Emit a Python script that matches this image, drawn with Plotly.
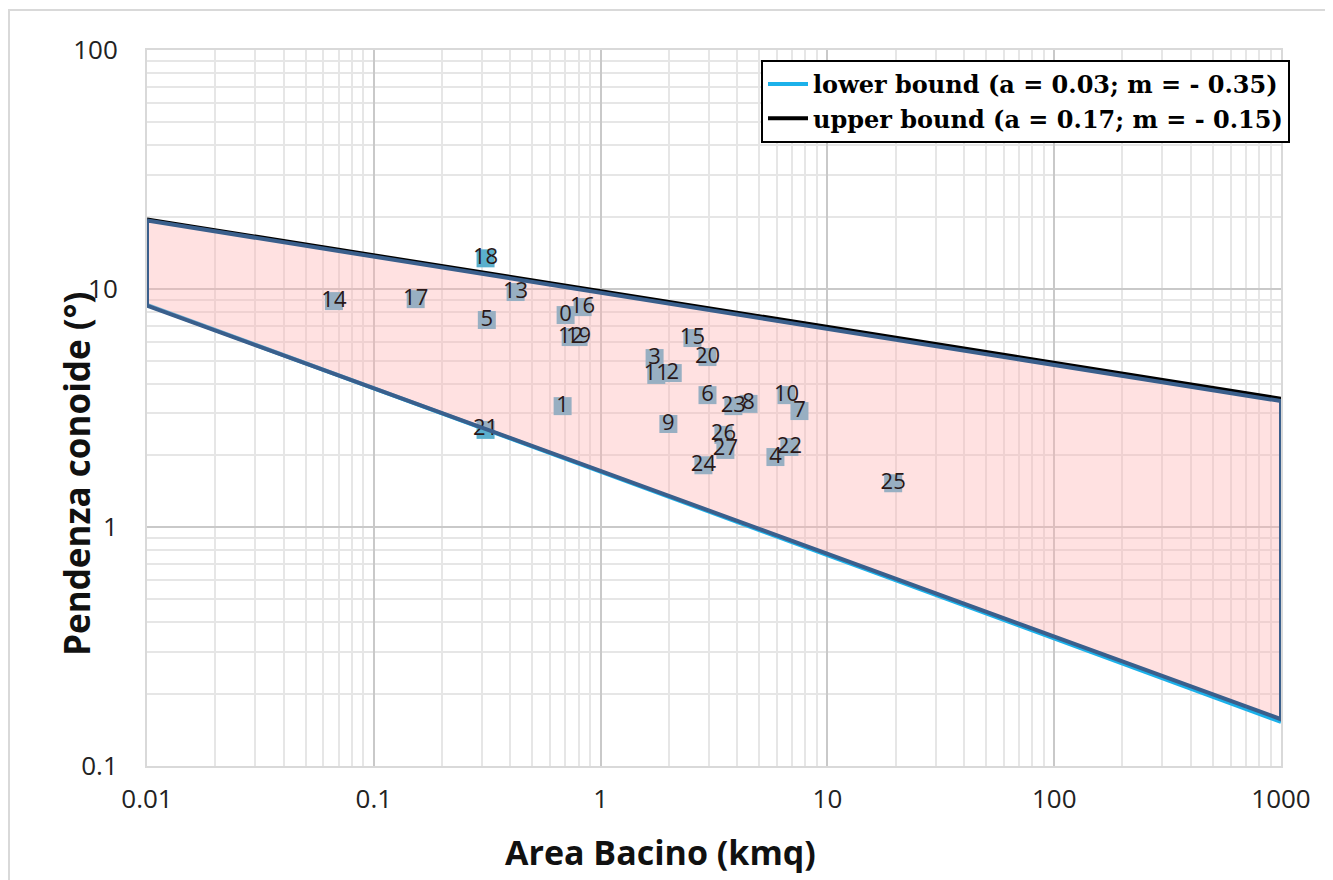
import plotly.graph_objects as go

# ---- data ----
labels = [str(i) for i in range(28)]
area = [0.701, 0.680, 2.08, 1.73, 5.90, 0.315, 2.96, 7.53, 4.49, 1.99,
        6.60, 1.76, 0.738, 0.422, 0.0667, 2.54, 0.833, 0.153, 0.311, 0.800,
        2.96, 0.311, 6.80, 3.85, 2.84, 19.5, 3.48, 3.55]
slope = [7.75, 3.22, 4.43, 5.12, 1.97, 7.39, 3.58, 3.07, 3.29, 2.71,
         3.58, 4.35, 6.27, 9.68, 8.87, 6.21, 8.37, 9.04, 13.4, 6.27,
         5.17, 2.56, 2.17, 3.22, 1.82, 1.53, 2.44, 2.11]

bound_x = [0.01, 1000]
lower_y = [8.55, 0.153]
upper_y = [19.5, 3.46]

poly_x = [0.01, 1000, 1000, 0.01, 0.01]
poly_y = [19.3, 3.38, 0.157, 8.5, 19.3]

x_tickvals = [0.01, 0.1, 1, 10, 100, 1000]
x_ticktext = ["0.01", "0.1", "1", "10", "100", "1000"]
y_tickvals = [0.1, 1, 10, 100]
y_ticktext = ["0.1", "1", "10", "100"]

lower_name = "<b>lower bound (a = 0.03; m = - 0.35)</b>"
upper_name = "<b>upper bound (a = 0.17; m = - 0.15)</b>"
x_title = "<b>Area Bacino (kmq)</b>"
y_title = "<b>Pendenza conoide (°)</b>"

fig = go.Figure()

fig.add_trace(go.Scatter(x=bound_x, y=lower_y, mode="lines", name=lower_name,
                         line=dict(color="#1cb1ea", width=4)))
fig.add_trace(go.Scatter(x=bound_x, y=upper_y, mode="lines", name=upper_name,
                         line=dict(color="#000000", width=4)))

# square markers (under the pink band)
fig.add_trace(go.Scatter(x=area, y=slope, mode="markers", showlegend=False,
                         marker=dict(symbol="square", size=18, color="rgb(90,175,205)")))

# pink band fill
fig.add_trace(go.Scatter(x=poly_x, y=poly_y, mode="lines", fill="toself",
                         fillcolor="rgba(255,175,175,0.38)", showlegend=False,
                         line=dict(width=0)))

# labels
fig.add_trace(go.Scatter(x=area, y=slope, mode="text", text=labels,
                         textposition="middle center", showlegend=False,
                         textfont=dict(family="Open Sans", size=22, color="#2a1818")))

# band outline on top
fig.add_trace(go.Scatter(x=poly_x, y=poly_y, mode="lines", showlegend=False,
                         line=dict(color="#3a5f8c", width=4)))

# screen geometry (page has 8px body offset)
OFF = 8
W, H = 1325, 872
L = 147 - OFF
T = 50 - OFF
R = (OFF + W) - 1281
B = (OFF + H) - 766
pw, ph = W - L - R, H - T - B

def px_x(px):
    return (px - 147) / pw

def px_y(py):
    return (766 - py) / ph

fig.update_layout(
    width=W, height=H,
    margin=dict(l=L, r=R, t=T, b=B),
    paper_bgcolor="white", plot_bgcolor="white",
    showlegend=True,
    legend=dict(x=px_x(1290), xanchor="right", y=px_y(60), yanchor="top",
                bgcolor="white", bordercolor="black", borderwidth=2,
                font=dict(family="DejaVu Serif", size=24, color="black"),
                tracegroupgap=0, itemwidth=40),
    xaxis=dict(type="log", range=[-2, 3], tickvals=x_tickvals, ticktext=x_ticktext,
               showgrid=True, gridcolor="#c9c9c9", gridwidth=1.5,
               minor=dict(dtick="D1", showgrid=True, gridcolor="#e6e6e6", gridwidth=1.5, ticks=""),
               showline=True, mirror=True, linecolor="#d9d9d9", linewidth=2,
               ticks="", ticklabelstandoff=9, zeroline=False,
               tickfont=dict(family="Open Sans", size=26, color="#222222")),
    yaxis=dict(type="log", range=[-1, 2], tickvals=y_tickvals, ticktext=y_ticktext,
               showgrid=True, gridcolor="#c9c9c9", gridwidth=1.5,
               minor=dict(dtick="D1", showgrid=True, gridcolor="#e6e6e6", gridwidth=1.5, ticks=""),
               showline=True, mirror=True, linecolor="#d9d9d9", linewidth=2,
               ticks="", ticklabelstandoff=22, zeroline=False,
               tickfont=dict(family="Open Sans", size=26, color="#222222")),
    annotations=[
        dict(text=x_title, xref="paper", yref="paper", x=px_x(660), y=px_y(852),
             xanchor="center", yanchor="middle", showarrow=False,
             font=dict(family="Open Sans", size=34, color="#111111")),
        dict(text=y_title, xref="paper", yref="paper", x=px_x(77), y=px_y(474),
             xanchor="center", yanchor="middle", showarrow=False, textangle=-90,
             font=dict(family="Open Sans", size=35, color="#111111")),
    ],
    shapes=[
        dict(type="rect", xref="paper", yref="paper", x0=px_x(9), x1=px_x(1331),
             y0=px_y(890), y1=px_y(10), line=dict(color="#d9d9d9", width=2),
             fillcolor="rgba(0,0,0,0)", layer="below"),
    ],
)

fig.write_html("out.html")
